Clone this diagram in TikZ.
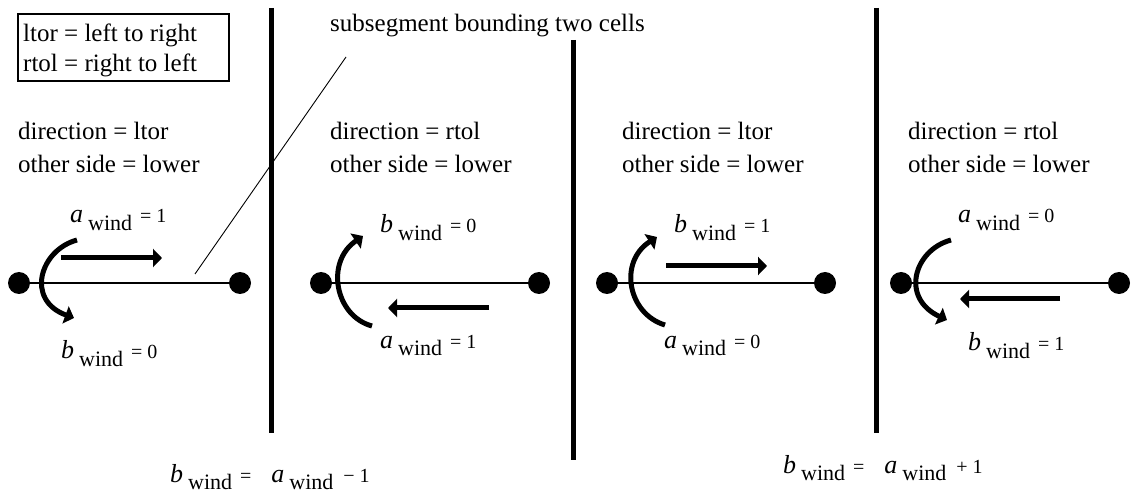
\documentclass[tikz,border=0pt]{standalone}
\usepackage{fontspec}
\setmainfont{Liberation Serif}
\newfontfamily\tms{Liberation Serif}
\usetikzlibrary{arrows.meta}
\newcommand{\wlab}[2]{{\tms\fontsize{26}{26}\selectfont\itshape #1}\hspace{5pt}\raisebox{-8pt}{\tms\fontsize{22}{22}\selectfont wind}\hspace{8pt}{\tms\fontsize{20}{20}\selectfont #2}}
\newcommand{\wterm}[1]{{\tms\fontsize{26}{26}\selectfont\itshape #1}\hspace{5pt}\raisebox{-7pt}{\tms\fontsize{22}{22}\selectfont wind}}
\begin{document}
\begin{tikzpicture}[x=1pt,y=-1pt,
  txt/.style={anchor=base west, inner sep=0pt, font=\tms\fontsize{25}{30}\selectfont},
  lab/.style={anchor=base west, inner sep=0pt, font=\tms},
  dot/.style={circle, fill=black, minimum size=22pt, inner sep=0pt},
  wall/.style={line width=5pt},
  seg/.style={line width=1.3pt},
  thin/.style={line width=0.9pt},
  fat/.style={line width=5pt, -{Triangle[length=9pt,width=18pt]}}]
\useasboundingbox (0,0) rectangle (1135,494);

% legend
\draw[line width=1.2pt] (18,14) rectangle (229,81);
\node[txt] (l1) at (23,42) {ltor = left to right};
\node[txt] (l2) at (23,72) {rtol = right to left};

% walls
\coordinate (w1t) at (271,8);  \coordinate (w1b) at (271,433);
\coordinate (w2t) at (573,40); \coordinate (w2b) at (573,460);
\coordinate (w3t) at (876,8);  \coordinate (w3b) at (876,433);
\draw[wall] (w1t) -- (w1b);
\draw[wall] (w2t) -- (w2b);
\draw[wall] (w3t) -- (w3b);

% callout
\node[txt] (sub) at (330,32) {subsegment bounding two cells};
\coordinate (ct) at (346,57); \coordinate (cb) at (195,274);
\draw[thin] (ct) -- (cb);

% panel texts
\node[txt] (d1) at (18,140) {direction = ltor};
\node[txt] (o1) at (18,173) {other side = lower};
\node[txt] (d2) at (330,140) {direction = rtol};
\node[txt] (o2) at (330,173) {other side = lower};
\node[txt] (d3) at (622,140) {direction = ltor};
\node[txt] (o3) at (622,173) {other side = lower};
\node[txt] (d4) at (908,140) {direction = rtol};
\node[txt] (o4) at (908,173) {other side = lower};

% segments with dots
\node[dot] (p1l) at (19,283) {}; \node[dot] (p1r) at (240,283) {};
\node[dot] (p2l) at (321,283) {}; \node[dot] (p2r) at (539,283) {};
\node[dot] (p3l) at (607,283) {}; \node[dot] (p3r) at (825,283) {};
\node[dot] (p4l) at (901,283) {}; \node[dot] (p4r) at (1119,283) {};
\draw[seg] (p1l.center) -- (p1r.center);
\draw[seg] (p2l.center) -- (p2r.center);
\draw[seg] (p3l.center) -- (p3r.center);
\draw[seg] (p4l.center) -- (p4r.center);

% panel 1
\draw[fat] (61,258) -- (162,258);
\draw[fat] (77,240) .. controls (40,250) and (25,300) .. (74,318);
\node[lab] (a1) at (70,223) {\wlab{a}{= 1}};
\node[lab] (b1) at (61,358) {\wlab{b}{= 0}};

% panel 2
\draw[fat] (489,308) -- (388,308);
\draw[fat] (372,326) .. controls (335,316) and (325,262) .. (363,236);
\node[lab] (b2) at (380,233) {\wlab{b}{= 0}};
\node[lab] (a2) at (380,348) {\wlab{a}{= 1}};

% panel 3
\draw[fat] (666,266) -- (767,266);
\draw[fat] (665,325) .. controls (628,314) and (618,262) .. (657,237);
\node[lab] (b3) at (674,233) {\wlab{b}{= 1}};
\node[lab] (a3) at (664,348) {\wlab{a}{= 0}};

% panel 4
\draw[fat] (1060,299) -- (960,299);
\draw[fat] (951,240) .. controls (914,250) and (900,298) .. (947,320);
\node[lab] (a4) at (958,223) {\wlab{a}{= 0}};
\node[lab] (b4) at (968,350) {\wlab{b}{= 1}};

% formulas
\node[lab] (f1) at (170,482) {\wterm{b}\hspace{8pt}{\fontsize{20}{20}\selectfont =}\hspace{20pt}\wterm{a}\hspace{10pt}{\fontsize{20}{20}\selectfont − 1}};
\node[lab] (f2) at (783,473) {\wterm{b}\hspace{8pt}{\fontsize{20}{20}\selectfont =}\hspace{20pt}\wterm{a}\hspace{10pt}{\fontsize{20}{20}\selectfont + 1}};
\end{tikzpicture}
\end{document}
